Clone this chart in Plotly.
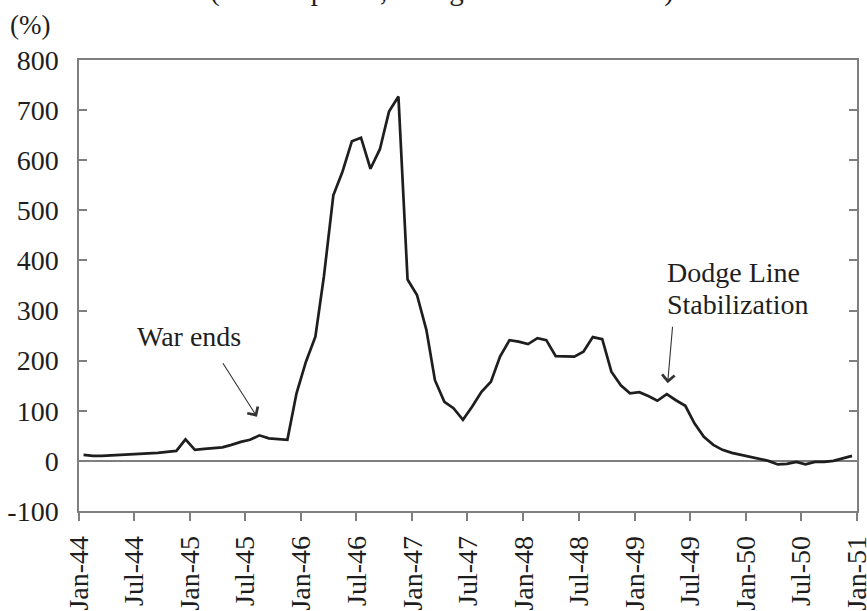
import pandas as pd
import plotly.graph_objects as go

# Monthly observations, Jan-1944 .. Dec-1950 (plotted at mid-month)
months = pd.date_range("1944-01-01", periods=84, freq="MS") + pd.Timedelta(days=15)
inflation = [
    12, 10, 10, 11, 12, 12, 13, 14, 16, 18, 20, 43,
    22, 24, 26, 27, 32, 38, 42, 51, 45, 44, 42, 135,
    198, 248, 368, 530, 577, 638, 645, 583, 622, 697, 727, 362,
    331, 261, 161, 118, 105, 82, 108, 138, 158, 208, 241, 238,
    233, 245, 241, 209, 209, 208, 218, 247, 243, 178, 151, 135,
    137, 129, 120, 133, 121, 110, 75, 48, 32, 22, 16, 12,
    7, 3, 0, -7, -6, -2, -7, -2, -2, 0, 5, 10,
]
y_ticks = [-100, 0, 100, 200, 300, 400, 500, 600, 700, 800]
y_tick_text = [str(v) for v in y_ticks]

FONT = "Liberation Serif, Times New Roman, serif"
GRAY = "#7f7f7f"
INK = "#1e1e1e"

fig = go.Figure()
fig.add_trace(go.Scatter(x=months, y=inflation, mode="lines",
                         line=dict(color=INK, width=2.7), hoverinfo="skip"))

fig.update_layout(
    width=867, height=611,
    margin=dict(l=79, r=10, t=60, b=100, autoexpand=False),
    paper_bgcolor="white", plot_bgcolor="white",
    showlegend=False,
    font=dict(family=FONT, size=28, color=INK),
)
fig.update_xaxes(
    type="date", range=["1944-01-01", "1951-01-01 08:00"],
    tick0="1944-01-01", dtick="M6", tickformat="%b-%y", tickangle=-90,
    ticks="outside", ticklen=8, tickwidth=1.5, tickcolor=GRAY,
    showline=True, linecolor=GRAY, linewidth=1.5, mirror=True,
    showgrid=False, zeroline=False, ticklabelstandoff=4, automargin=False,
    ticklabeloverflow="allow",
    tickfont=dict(family=FONT, size=28, color=INK),
)
fig.update_yaxes(
    range=[-100, 800], tickvals=y_ticks, ticktext=y_tick_text,
    ticks="inside", ticklen=8, tickwidth=1.5, tickcolor=GRAY,
    showline=True, linecolor=GRAY, linewidth=1.5, mirror="ticks",
    showgrid=False, zeroline=True, zerolinecolor=GRAY, zerolinewidth=1.5,
    ticklabelstandoff=13, automargin=False, ticklabeloverflow="allow",
    tickfont=dict(family=FONT, size=28, color=INK),
)

# Title line, mostly cut off by the top edge as in the reference
fig.add_annotation(text="(Market prices, change over 12 months)",
                   xref="paper", yref="paper", x=0.4666, y=1.1552,
                   xanchor="center", yanchor="middle", showarrow=False,
                   font=dict(family=FONT, size=29, color=INK))
fig.add_annotation(text="(%)", xref="paper", yref="paper", x=-0.063, y=1.0776,
                   xanchor="center", yanchor="middle", showarrow=False,
                   font=dict(family=FONT, size=27, color=INK))

# War ends
fig.add_annotation(text="War ends", x="1944-12-27", y=249, xref="x", yref="y",
                   showarrow=False, xanchor="center", yanchor="middle",
                   font=dict(family=FONT, size=28, color=INK))
fig.add_annotation(text="", x="1945-08-08", y=88, xref="x", yref="y",
                   showarrow=True, ax=-35, ay=-55, arrowhead=4, arrowsize=2.2,
                   arrowwidth=1.1, arrowcolor="#333333")

# Dodge Line Stabilization
fig.add_annotation(text="Dodge Line", x="1949-04-09", y=375, xref="x", yref="y",
                   showarrow=False, xanchor="left", yanchor="middle",
                   font=dict(family=FONT, size=28, color=INK))
fig.add_annotation(text="Stabilization", x="1949-04-09", y=313, xref="x", yref="y",
                   showarrow=False, xanchor="left", yanchor="middle",
                   font=dict(family=FONT, size=28, color=INK))
fig.add_annotation(text="", x="1949-04-19", y=155, xref="x", yref="y",
                   showarrow=True, ax=5, ay=-58, arrowhead=4, arrowsize=2.2,
                   arrowwidth=1.1, arrowcolor="#333333")

fig.write_html("out.html",
               config={"displayModeBar": False},
               post_script="document.body.style.margin='0px';"
                           "document.body.style.padding='0px';")
